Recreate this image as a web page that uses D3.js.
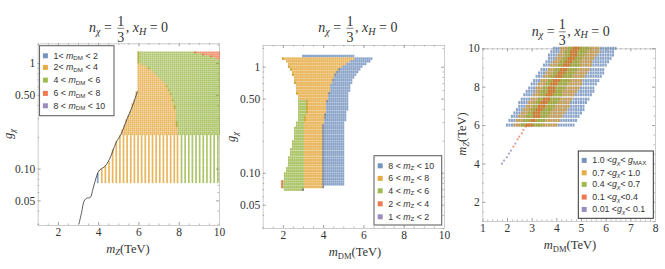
<!DOCTYPE html>
<html>
<head>
<meta charset="utf-8">
<script src="https://cdn.jsdelivr.net/npm/d3@7"></script>
<style>
html,body{margin:0;padding:0;background:#fff;}
svg{display:block;}
text{font-family:"Liberation Serif",serif;fill:#333;}
.legend text{font-family:"Liberation Sans",sans-serif;font-size:8.8px;}
</style>
</head>
<body>
<div class="graphHere"></div>
<script>
// mathematica default colours
var blue = "#5E81B5", orange = "#E19C24", green = "#8FB032", red = "#EB6235", purple = "#8778B3";

// ---- left panel: g vs mZ ----
var leftLegend = [["1< "," < 2",blue],["2< "," < 4",orange],["4 < "," < 6",green],["6 < "," < 8",red],["8 < "," < 10",purple]];
var leftCols = [5.1,5.2,5.3,5.4,5.5,5.6,5.7,5.8,5.9,6,6.1,6.2,6.3,6.4,6.5,6.6,6.7,6.8,6.9,7,7.1,7.2,7.3,7.4,7.5,7.6,7.7,7.8,7.9,8,8.1,8.2,8.3,8.4,8.5,8.6,8.7,8.8,8.9,9,9.1,9.2,9.3,9.4,9.5,9.6,9.7,9.8,9.9,10];
var leftRows = [1.26,1.206,1.155,1.106,1.059,1.014,0.971,0.93,0.89,0.852,0.816,0.781,0.748,0.716,0.686,0.657,0.629,0.602,0.576,0.552,0.528,0.506,0.484,0.464,0.444,0.425,0.407,0.39,0.373,0.357,0.342,0.327,0.313,0.3,0.287,0.275,0.263,0.252,0.241,0.231,0.221,0.212];
var leftStart = [6,6,6,6,6,6,6,6,6,6,6,6,6,6,6,6,6,6,6,6,5.92,5.89,5.86,5.82,5.79,5.75,5.72,5.7,5.66,5.62,5.58,5.54,5.5,5.45,5.41,5.37,5.33,5.29,5.25,5.21,5.17,5.13];
var leftOrangeEnd = [0,0,0,0,0,0,6.15,6.36,6.52,6.65,6.76,6.85,6.97,7.08,7.18,7.27,7.34,7.4,7.45,7.5,7.55,7.6,7.64,7.68,7.71,7.74,7.77,7.79,7.81,7.83,7.84,7.85,7.86,7.87,7.88,7.89,7.9,7.92,7.93,7.94,7.95,7.96];
var leftRedStart = [8.8,9.2,9.6,9.85,11,11,11,11,11,11,11,11,11,11,11,11,11,11,11,11,11,11,11,11,11,11,11,11,11,11,11,11,11,11,11,11,11,11,11,11,11,11];
// sparse scan below g=0.21 : one stripe per mZ
var stripeMz = [3.98,4.18,4.36,4.54,4.72,4.9,5.08,5.26,5.44,5.62,5.8,5.98,6.16,6.34,6.52,6.7,6.88,7.06,7.24,7.42,7.6,7.78,7.94,8.14,8.32,8.5,8.68,8.86,9.04,9.22,9.4,9.58,9.76,9.94];
var stripeTop = [0.09,0.1,0.106,0.118,0.15,0.178,0.205,0.21,0.21,0.21,0.21,0.21,0.21,0.21,0.21,0.21,0.21,0.21,0.21,0.21,0.21,0.21,0.21,0.21,0.21,0.21,0.21,0.21,0.21,0.21,0.21,0.21,0.21,0.21];
var stripeRows = [0.203,0.194,0.186,0.178,0.17,0.163,0.156,0.149,0.143,0.137,0.131,0.125,0.12,0.115,0.11,0.105,0.101,0.0967,0.0926,0.0886,0.0849,0.0813,0.0778,0.0745];
var limitMz = [3.05,3.18,3.31,3.44,3.61,3.74,3.93,4.07,4.31,4.56,4.89,5.13,5.46,5.7,5.95];
var limitG = [0.0298,0.0385,0.0495,0.0525,0.0533,0.0638,0.0853,0.097,0.1037,0.1225,0.176,0.211,0.303,0.39,0.54];

// ---- middle panel: g vs mDM ----
var midLegend = [["8 < "," < 10",blue],["6 < "," < 8",orange],["4 < "," < 6",green],["2 < "," < 4",red],["1 < "," < 2",purple]];
var midCols = [2,2.1,2.2,2.3,2.4,2.5,2.6,2.7,2.8,2.9,3,3.1,3.2,3.3,3.4,3.5,3.6,3.7,3.8,3.9,4,4.1,4.2,4.3,4.4,4.5,4.6,4.7,4.8,4.9,5,5.1,5.2,5.3,5.4,5.5,5.6,5.7,5.8,5.9,6,6.1,6.2,6.3,6.4,6.5];
var midRows = [1.26,1.19,1.123,1.06,1,0.944,0.891,0.841,0.793,0.749,0.706,0.667,0.629,0.594,0.56,0.529,0.499,0.471,0.444,0.419,0.396,0.373,0.352,0.332,0.314,0.296,0.279,0.264,0.249,0.235,0.221,0.209,0.197,0.186,0.176,0.166,0.156,0.148,0.139,0.131,0.124,0.117,0.11,0.104,0.0981,0.0926,0.0874,0.0825,0.0778,0.0734,0.0693];
var midStart = [2.93,2.02,2.14,2.25,2.32,2.39,2.45,2.5,2.53,2.58,2.62,2.65,2.67,2.68,2.72,2.75,2.78,2.82,2.82,2.82,2.8,2.78,2.77,2.77,2.75,2.68,2.65,2.62,2.62,2.58,2.55,2.53,2.52,2.49,2.45,2.42,2.39,2.35,2.32,2.3,2.27,2.24,2.2,2.14,2.07,2.06,2.04,2.02,2.02,2.02,2.06];
var midGreenEnd = [0,0,0,0,0,0,0,0,0,0,0,0,0,0,0,0,0,3.21,3.21,3.21,3.21,3.21,3.15,3.11,3.1,3.06,3.06,3.06,3.06,3.06,3.06,3.06,3.06,3.06,3.06,3.06,3.06,3.06,3.06,3.06,3.06,3.06,3.06,3.06,3.06,3.06,3.06,3.06,3.06,3.06,3];
var midOrangeEnd = [0,5.57,5.32,5.13,4.96,4.8,4.7,4.61,4.56,4.5,4.43,4.38,4.35,4.33,4.3,4.27,4.23,4.2,4.17,4.15,4.14,4.12,4.1,4.09,4.07,4.05,4.02,4.02,4.02,4.02,4.02,4.02,4.02,4.02,4.02,4.02,4.02,4.02,4.02,4.02,4.02,4.02,4.02,4.02,4.02,4.02,4.02,4.02,4.02,4.02,3];
var midBlueEnd = [5.57,6.48,6.31,6.12,5.98,5.82,5.69,5.59,5.52,5.46,5.41,5.36,5.32,5.29,5.27,5.26,5.24,5.22,5.22,5.22,5.19,5.17,5.16,5.14,5.13,5.08,5.03,5.03,5.03,5.03,5.03,5.03,5.03,5.03,5.03,5.03,5.03,5.03,5.03,5.03,5.03,5.03,5.03,5.03,5.03,5.03,5.03,5.03,5.03,4.02,3];
var midRedMdm = [1.95,1.95,1.95];
var midRedG = [0.0825,0.0778,0.0734];

// ---- right panel: mZ vs mDM ----
var rightLegend = [["1.0 <","< ",blue,"MAX"],["0.7 <","< 1.0",orange],["0.4 <","< 0.7",green],["0.1 <","<0.4",red],["0.01 <","< 0.1",purple]];
var rightCols = [1.9,2,2.1,2.2,2.3,2.4,2.5,2.6,2.7,2.8,2.9,3,3.1,3.2,3.3,3.4,3.5,3.6,3.7,3.8,3.9,4,4.1,4.2,4.3,4.4,4.5,4.6,4.7,4.8,4.9,5,5.1,5.2,5.3,5.4,5.5,5.6,5.7,5.8,5.9,6,6.1,6.2,6.3,6.4,6.5];
var rightRows = [10,9.825,9.65,9.475,9.3,9.125,8.89,8.715,8.54,8.32,8.145,7.93,7.755,7.58,7.35,7.175,6.98,6.805,6.63,6.455,6.24,6];
var rightBlueStart = [3.88,3.8,3.71,3.63,3.54,3.46,3.35,3.26,3.18,3.07,2.99,2.89,2.8,2.72,2.61,2.52,2.43,2.35,2.26,2.18,2.08,1.96];
var rightOrangeStart = [4.22,4.13,4.05,3.97,3.88,3.8,3.68,3.6,3.51,3.41,3.32,3.22,3.13,3.05,2.93,2.85,2.76,2.67,2.59,2.5,2.4,2.28];
var rightGreenStart = [4.49,4.41,4.32,4.24,4.16,4.07,3.96,3.88,3.8,3.69,3.61,3.51,3.42,3.34,3.23,3.15,3.06,2.97,2.89,2.81,2.7,2.59];
var rightRedStart = [4.69,4.61,4.53,4.45,4.36,4.28,4.17,4.09,4.01,3.9,3.82,3.72,3.64,3.56,3.45,3.37,3.28,3.2,3.11,3.03,2.93,2.82];
var rightRedEnd = [4.96,4.88,4.79,4.71,4.63,4.55,4.44,4.35,4.27,4.17,4.08,3.98,3.9,3.82,3.71,3.63,3.53,3.45,3.37,3.29,3.18,3.07];
var rightGreenEnd = [5.3,5.22,5.14,5.06,4.98,4.9,4.79,4.71,4.63,4.53,4.45,4.35,4.27,4.19,4.09,4.01,3.92,3.84,3.76,3.68,3.58,3.47];
var rightOrangeEnd = [5.77,5.7,5.62,5.55,5.47,5.4,5.3,5.23,5.15,5.06,4.99,4.9,4.82,4.75,4.65,4.58,4.49,4.42,4.35,4.27,4.18,4.08];
var rightBlueEnd = [6.45,6.38,6.3,6.23,6.15,6.08,5.98,5.91,5.83,5.74,5.67,5.58,5.5,5.43,5.33,5.26,5.17,5.1,5.03,4.95,4.86,4.76];
var tailMdm = [1.8,1.88,1.99,2.08,2.16,2.26,2.34,2.43,2.5,2.6,2.66,2.77];
var tailMz = [3.99,4.15,4.32,4.51,4.67,4.88,5.03,5.26,5.4,5.57,5.75,5.92];
var tailColor = [purple,purple,purple,purple,purple,red,purple,red,red,red,red,red];

var xMajor = [2,4,6,8,10];
var xMinor = [1,1.5,2.5,3,3.5,4.5,5,5.5,6.5,7,7.5,8.5,9,9.5];
var gMajor = [1,0.5,0.1,0.05];
var gMinor = [1.5,0.9,0.8,0.7,0.6,0.4,0.3,0.2,0.09,0.08,0.07,0.06,0.04,0.03];
var rightXMajor = [1,2,3,4,5,6,7,8];
var rightXMinor = [1.2,1.4,1.6,1.8,2.2,2.4,2.6,2.8,3.2,3.4,3.6,3.8,4.2,4.4,4.6,4.8,5.2,5.4,5.6,5.8,6.2,6.4,6.6,6.8,7.2,7.4,7.6,7.8];
var rightYMajor = [2,4,6,8,10];
var rightYMinor = [1,1.5,2.5,3,3.5,4.5,5,5.5,6.5,7,7.5,8.5,9,9.5];

var svg = d3.select(".graphHere").append("svg")
  .attr("width", 665)
  .attr("height", 269);

// frame with inward ticks on all four sides
function frame(x, y, xMaj, xMin, yMaj, yMin, yFormat){
  var g = svg.append("g");
  var r = x.range(), b = y.range();
  function side(axis, tx, ty, size, major, minor, labels, fmt, pad){
    var a1 = g.append("g").attr("transform", "translate(" + tx + "," + ty + ")")
      .call(axis.tickValues(minor).tickSize(size*0.5).tickFormat(""));
    a1.selectAll("line").attr("stroke", "#888").attr("stroke-width", 0.6);
    a1.select(".domain").attr("stroke", "#ccc").attr("stroke-width", 1);
    var a2 = g.append("g").attr("transform", "translate(" + tx + "," + ty + ")")
      .call(axis.tickValues(major).tickSize(size).tickPadding(pad).tickFormat(labels ? fmt : ""));
    a2.selectAll("line").attr("stroke", "#777").attr("stroke-width", 0.7);
    a2.select(".domain").attr("stroke", "none");
    a2.selectAll("text").style("font-family", '"Liberation Serif",serif').style("font-size", "11.5px").style("fill", "#333");
  }
  side(d3.axisBottom(x), 0, b[0], -3, xMaj, xMin, true, d3.format("d"), 3);
  side(d3.axisBottom(x), 0, b[1], 3, xMaj, xMin, false, null, 3);
  side(d3.axisLeft(y), r[0], 0, -3, yMaj, yMin, true, yFormat, 2.5);
  side(d3.axisLeft(y), r[1], 0, 3, yMaj, yMin, false, null, 3);
}

function gLabel(d){ return d == 1 ? "1" : d3.format(".2f")(d); }

// points of one row, clipped to [from, to)
function rowMarks(layer, cols, from, to, row, color, x, y, w, h){
  cols.filter(function(c){ return c >= from - 0.02 && c < to + 0.02; }).forEach(function(c){
    layer.append("rect")
      .attr("x", x(c) - w/2)
      .attr("y", y(row) - h/2)
      .attr("width", w)
      .attr("height", h)
      .attr("fill", color)
      .attr("fill-opacity", 0.74);
  });
}

function legend(x0, y0, w, h, border, sw, tx, ys, items, symbol, sub){
  var g = svg.append("g").attr("class", "legend");
  g.append("rect").attr("x", x0).attr("y", y0).attr("width", w).attr("height", h)
    .attr("fill", "#fff").attr("stroke", border).attr("stroke-width", sw);
  items.forEach(function(it, i){
    g.append("rect").attr("x", x0 + tx - 10.6).attr("y", ys[i] - 2.4).attr("width", 5).attr("height", 5).attr("fill", it[2]).attr("fill-opacity", 0.85);
    var t = g.append("text").attr("x", x0 + tx).attr("y", ys[i] + 2.9);
    t.append("tspan").text(it[0]);
    t.append("tspan").attr("font-style", "italic").text(symbol);
    t.append("tspan").attr("font-size", "6.2px").attr("dy", 1.6).attr("font-style", sub == "X" ? "italic" : null).text(sub == "X" ? "\u03C7" : sub);
    t.append("tspan").attr("dy", -1.6).text(it[1]);
    if(it[3]){
      t.append("tspan").attr("font-style", "italic").text("g");
      t.append("tspan").attr("font-size", "6.2px").attr("dy", 1.6).text(it[3]);
    }
  });
}

function title(x0, base, fracX, fs){
  var t = svg.append("g").style("font-size", fs + "px");
  var a = t.append("text").attr("x", x0).attr("y", base);
  a.append("tspan").attr("font-style", "italic").text("n");
  a.append("tspan").attr("font-style", "italic").attr("font-size", fs*0.72).attr("dy", 2.5).text("\u03C7");
  a.append("tspan").attr("dy", -2.5).text(" = ");
  t.append("text").attr("x", fracX).attr("y", base - 6.2).attr("text-anchor", "middle").text("1");
  t.append("line").attr("x1", fracX - 3.5).attr("x2", fracX + 3.5).attr("y1", base - 3.7).attr("y2", base - 3.7).attr("stroke", "#333").attr("stroke-width", 0.6);
  t.append("text").attr("x", fracX).attr("y", base + 9.5).attr("text-anchor", "middle").text("3");
  var b = t.append("text").attr("x", fracX + 5).attr("y", base);
  b.append("tspan").text(", ");
  b.append("tspan").attr("font-style", "italic").text("x");
  b.append("tspan").attr("font-style", "italic").attr("font-size", fs*0.72).attr("dy", 2.5).text("H");
  b.append("tspan").attr("dy", -2.5).text(" = 0");
}

function axisLabel(px, py, rot, sym, sub){
  var t = svg.append("text").attr("text-anchor", "middle").style("font-size", "12.5px")
    .attr("transform", "translate(" + px + "," + py + ") rotate(" + rot + ")");
  t.append("tspan").attr("font-style", "italic").text(sym);
  t.append("tspan").attr("font-size", "8.5px").attr("dy", 2.5).attr("font-style", sub == "DM" ? null : "italic").text(sub);
  return t;
}

// ---- left panel ----
var x1 = d3.scaleLinear().domain([1, 10]).range([37.7, 219]);
var y1 = d3.scaleLog().domain([0.0292, 1.54]).range([225, 43.3]);
frame(x1, y1, xMajor, xMinor, gMajor, gMinor, gLabel);
var layer1 = svg.append("g");
leftRows.forEach(function(g, i){
  var from = leftStart[i], mid = leftOrangeEnd[i] || from, red1 = leftRedStart[i];
  rowMarks(layer1, leftCols, from, mid, g, orange, x1, y1, 1.8, 1.9);
  rowMarks(layer1, leftCols, mid, red1, g, green, x1, y1, 1.8, 1.9);
  rowMarks(layer1, leftCols, red1, 10, g, red, x1, y1, 1.8, 1.9);
});
stripeMz.forEach(function(mz, i){
  var color = mz < 4.1 ? blue : (mz < 8 ? orange : green);
  stripeRows.filter(function(g){ return g <= stripeTop[i]; }).forEach(function(g){
    rowMarks(layer1, [mz], mz, mz, g, color, x1, y1, 1.7, 2.1);
  });
});
svg.append("path")
  .datum(limitMz.map(function(m, i){ return [m, limitG[i]]; }))
  .attr("fill", "none")
  .attr("stroke", "#333")
  .attr("stroke-width", 0.8)
  .attr("d", d3.line().x(function(d){ return x1(d[0]); }).y(function(d){ return y1(d[1]); }).curve(d3.curveCatmullRom));
legend(39.5, 45.7, 74.5, 70, "#666", 1.1, 14, [55.7, 67.3, 80, 93.3, 105.7], leftLegend, "m", "DM");
title(89, 32, 120.7, 14);
axisLabel(128, 252.5, 0, "m", "Z").append("tspan").attr("dy", -2.5).text("(TeV)");
axisLabel(12, 134, -90, "g", "\u03C7");

// ---- middle panel ----
var x2 = d3.scaleLinear().domain([1, 10]).range([262.7, 444]);
var y2 = d3.scaleLog().domain([0.0301, 1.6]).range([228, 45]);
frame(x2, y2, xMajor, xMinor, gMajor, gMinor, gLabel);
var layer2 = svg.append("g");
midRows.forEach(function(g, i){
  var from = midStart[i], ge = midGreenEnd[i] || from, oe = midOrangeEnd[i] || from;
  rowMarks(layer2, midCols, from, ge, g, green, x2, y2, 1.9, 2.5);
  rowMarks(layer2, midCols, ge, oe, g, orange, x2, y2, 1.9, 2.5);
  rowMarks(layer2, midCols, oe, midBlueEnd[i], g, blue, x2, y2, 1.9, 2.5);
});
midRedG.forEach(function(g, i){
  rowMarks(layer2, [midRedMdm[i]], midRedMdm[i], midRedMdm[i], g, red, x2, y2, 1.9, 2.6);
});
legend(374, 155.7, 67.7, 69.3, "#666", 1.1, 14.3, [165.7, 178.3, 190.7, 203.7, 216.7], midLegend, "m", "Z");
title(318.3, 32, 350, 14);
axisLabel(355, 256, 0, "m", "DM").append("tspan").attr("dy", -2.5).text("(TeV)");
axisLabel(235, 137, -90, "g", "\u03C7");

// ---- right panel ----
var x3 = d3.scaleLinear().domain([1, 8]).range([482.3, 655]);
var y3 = d3.scaleLinear().domain([1, 10]).range([221, 48.3]);
frame(x3, y3, rightXMajor, rightXMinor, rightYMajor, rightYMinor, d3.format("d"));
var layer3 = svg.append("g");
// drawn back to front, each band slightly overlaps so the lower colour shows through
rightRows.forEach(function(m, i){
  rowMarks(layer3, rightCols, rightBlueStart[i], rightBlueEnd[i], m, blue, x3, y3, 2, 3);
  rowMarks(layer3, rightCols, rightOrangeStart[i], rightOrangeEnd[i], m, orange, x3, y3, 2, 3);
  rowMarks(layer3, rightCols, rightGreenStart[i], rightGreenEnd[i], m, green, x3, y3, 2, 3);
  rowMarks(layer3, rightCols, rightRedStart[i], rightRedEnd[i], m, red, x3, y3, 2, 3);
});
tailMdm.forEach(function(m, i){
  rowMarks(layer3, [m], m, m, tailMz[i], tailColor[i], x3, y3, 1.8, 1.8);
});
legend(578.3, 151, 75, 67.3, "#333", 1, 14, [160.3, 172.7, 184.3, 197, 209.3], rightLegend, "g", "X");
title(531.7, 35.5, 562.3, 14);
axisLabel(570, 249, 0, "m", "DM").append("tspan").attr("dy", -2.5).text("(TeV)");
axisLabel(466, 134, -90, "m", "Z").append("tspan").attr("dy", -2.5).text("(TeV)");
</script>
</body>
</html>
